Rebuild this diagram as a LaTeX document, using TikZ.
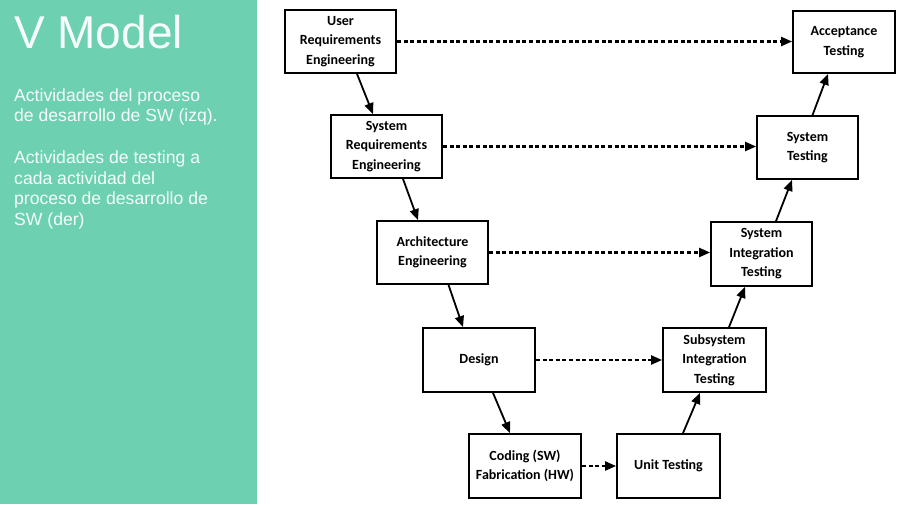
\documentclass[tikz,border=0pt]{standalone}
\usepackage{fontspec}
\setmainfont{Carlito}
\newfontfamily\panelfont{Liberation Sans}
\usetikzlibrary{arrows.meta}
\definecolor{panelgreen}{RGB}{109,208,176}
\definecolor{paneltextcol}{RGB}{246,252,250}
\tikzset{
  stagebox/.style={draw=black, line width=1.8pt, fill=white, inner sep=0pt, align=center,
    font=\fontsize{14}{19.5}\selectfont\bfseries},
  flow/.style={line width=1.8pt, -{Triangle[length=11pt,width=9pt]}},
  link/.style={line width=2.2pt, dash pattern=on 4pt off 2.6pt, -{Triangle[length=11pt,width=9pt]}},
  paneltext/.style={text=paneltextcol, inner sep=0pt, anchor=base west, font=\panelfont\fontsize{17.6}{20.5}\selectfont},
}
\begin{document}
\begin{tikzpicture}[x=1pt,y=-1pt]
\useasboundingbox (0,0) rectangle (909,504);
\fill[white] (0,0) rectangle (909,504);
\fill[panelgreen] (0,0) rectangle (257,504);
\node[text=paneltextcol, inner sep=0pt, anchor=base west, font=\panelfont\fontsize{46}{50}\selectfont] (title) at (14,48.3) {V Model};
\node[paneltext] (l1) at (14,101) {Actividades del proceso};
\node[paneltext] (l2) at (14,121.5) {de desarrollo de SW (izq).};
\node[paneltext] (l3) at (14,163.5) {Actividades de testing a};
\node[paneltext] (l4) at (14,184) {cada actividad del};
\node[paneltext] (l5) at (14,204.5) {proceso de desarrollo de};
\node[paneltext] (l6) at (14,225) {SW (der)};

\node[stagebox, minimum width=111pt, minimum height=63pt] (ur) at (340.5,41.5) {User\\Requirements\\Engineering};
\node[stagebox, minimum width=111pt, minimum height=63pt] (sr) at (386.5,146.5) {System\\Requirements\\Engineering};
\node[stagebox, minimum width=111pt, minimum height=63pt] (ae) at (432.5,252.5) {Architecture\\Engineering};
\node[stagebox, minimum width=112pt, minimum height=64pt] (de) at (479,360) {Design};
\node[stagebox, minimum width=112pt, minimum height=64pt] (co) at (525,466) {Coding (SW)\\Fabrication (HW)};
\node[stagebox, minimum width=103pt, minimum height=64pt] (ut) at (668.5,466) {Unit Testing};
\node[stagebox, minimum width=103pt, minimum height=64pt] (ss) at (714.5,360) {Subsystem\\Integration\\Testing};
\node[stagebox, minimum width=101pt, minimum height=64pt] (si) at (761.5,254) {System\\Integration\\Testing};
\node[stagebox, minimum width=101pt, minimum height=63pt] (st) at (807.5,147.5) {System\\Testing};
\node[stagebox, minimum width=102pt, minimum height=62pt] (at) at (844,42) {Acceptance\\Testing};

\draw[flow] ([xshift=16.5pt]ur.south) -- ([xshift=-13.5pt]sr.north);
\draw[flow] ([xshift=16.5pt]sr.south) -- ([xshift=-14.5pt]ae.north);
\draw[flow] ([xshift=16pt]ae.south) -- ([xshift=-16pt]de.north);
\draw[flow] ([xshift=14pt]de.south) -- ([xshift=-15pt]co.north);
\draw[flow] ([xshift=14.5pt]ut.north) -- ([xshift=-14.5pt]ss.south);
\draw[flow] ([xshift=14.5pt]ss.north) -- ([xshift=-16.5pt]si.south);
\draw[flow] ([xshift=14.5pt]si.north) -- ([xshift=-15.5pt]st.south);
\draw[flow] ([xshift=5pt]st.north) -- ([xshift=-16pt]at.south);

\draw[link] (ur.east) -- (ur.east -| at.west);
\draw[link] (sr.east) -- (sr.east -| st.west);
\draw[link] (ae.east) -- (ae.east -| si.west);
\draw[link] (de.east) -- (de.east -| ss.west);
\draw[link] (co.east) -- (co.east -| ut.west);
\end{tikzpicture}
\end{document}
